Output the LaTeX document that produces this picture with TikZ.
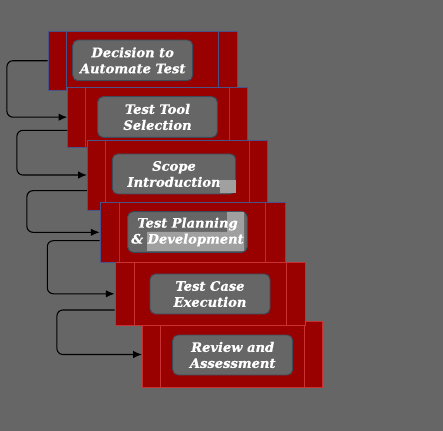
\documentclass[tikz,border=0pt]{standalone}
\usepackage{fontspec}
\newfontfamily\boxfont[BoldItalicFeatures={FakeBold=0.6}]{DejaVu Serif}
\usetikzlibrary{fit,calc,arrows.meta}
\definecolor{bgc}{HTML}{666666}
\definecolor{redc}{HTML}{990000}
\definecolor{blueedge}{HTML}{4A528A}
\definecolor{rededge}{HTML}{C83232}
\definecolor{greyedge}{HTML}{3C4A5A}
\definecolor{patchc}{HTML}{A0A0A0}
\tikzset{
  redbox/.style={rectangle, fill=redc, draw=#1, line width=0.6pt, inner sep=0pt},
  divline/.style={draw=#1, line width=0.6pt},
  greybox/.style={rectangle, rounded corners=4pt, fill=bgc, draw=greyedge, line width=0.7pt, inner sep=0pt},
  txt/.style={text=white, align=center, font=\boxfont\bfseries\itshape\fontsize{9.8}{12}\selectfont, inner sep=0pt},
  conn/.style={draw=black, line width=0.8pt, rounded corners=4.5pt, -{Latex[length=6.5pt,width=5.5pt]}}
}
\begin{document}
\begin{tikzpicture}[x=0.75pt,y=-0.75pt]
\fill[bgc] (0,0) rectangle (443,431);
\useasboundingbox (0,0) rectangle (443,431);

% box 1
\node (b1) [redbox=blueedge, fit={(48,31)(237,90.5)}] {};
\draw[divline=blueedge] (66.5,31) -- (66.5,90.5) (218.5,31) -- (218.5,90.5);
\node (g1) [greybox, fit={(72.7,40)(192.7,80.7)}] {};
\node (t1) [txt] at (g1) {Decision to\\Automate Test};

% box 2
\node (b2) [redbox=blueedge, fit={(67.7,87.3)(247.3,147)}] {};
\draw[divline=blueedge] (85.7,87.3) -- (85.7,147) (229.3,87.3) -- (229.3,147);
\node (g2) [greybox, fit={(97.7,96.7)(217.3,137.3)}] {};
\node (t2) [txt] at (g2) {Test Tool\\Selection};

% box 3
\node (b3) [redbox=blueedge, fit={(87.3,140)(267.3,210)}] {};
\draw[divline=blueedge] (105.7,140) -- (105.7,210) (249.3,140) -- (249.3,210);
\node (g3) [greybox, fit={(112.3,154)(235.7,194)}] {};
\fill[patchc] (220,180) rectangle (235.7,193);
\node (t3) [txt] at (g3) {Scope\\Introduction};

% box 4
\node (b4) [redbox=blueedge, fit={(100,202.3)(285,262.3)}] {};
\draw[divline=blueedge] (119.3,202.3) -- (119.3,262.3) (265.7,202.3) -- (265.7,262.3);
\node (g4) [greybox, fit={(127.7,211.7)(247.3,252.3)}] {};
\fill[patchc] (147,232) rectangle (244,251) (227,212) rectangle (244,232);
\node (t4) [txt] at (g4) {Test Planning\\\& Development};

% box 6
\node (b6) [redbox=rededge, fit={(142.3,321.7)(322.7,387.3)}] {};
\draw[divline=rededge] (160.7,321.7) -- (160.7,387.3) (304.7,321.7) -- (304.7,387.3);
\node (g6) [greybox, fit={(172.7,335)(292.7,375)}] {};
\node (t6) [txt] at (g6) {Review and\\Assessment};

% box 5
\node (b5) [redbox=rededge, fit={(115,262.3)(305.3,325.3)}] {};
\draw[divline=rededge] (134.3,262.3) -- (134.3,325.3) (286.3,262.3) -- (286.3,325.3);
\node (g5) [greybox, fit={(150,274)(270,314)}] {};
\node (t5) [txt] at (g5) {Test Case\\Execution};

% connectors
\draw[conn] (b1.west) -- ++(-40.7,0) |- (b2.west);
\draw[conn] ($(b2.west)+(0,13.2)$) -- ++(-50.4,0) |- (b3.west);
\draw[conn] ($(b3.west)+(0,15.7)$) -- ++(-60,0) |- (b4.west);
\draw[conn] ($(b4.west)+(0,8.4)$) -- ++(-52.3,0) |- (b5.west);
\draw[conn] ($(b5.west)+(0,16.2)$) -- ++(-57.7,0) |- (b6.west);
\end{tikzpicture}
\end{document}
